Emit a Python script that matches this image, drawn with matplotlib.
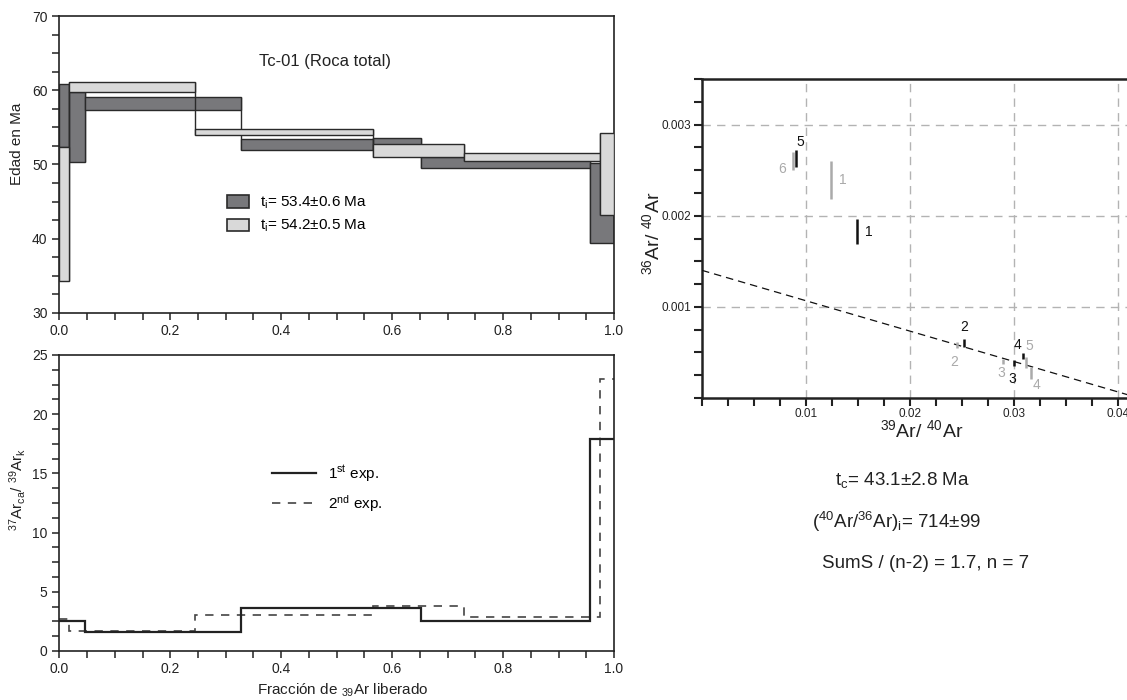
import matplotlib
matplotlib.use('Agg')
import matplotlib.pyplot as plt
import numpy as np
from matplotlib.patches import Patch
from matplotlib.lines import Line2D
from matplotlib.ticker import MultipleLocator

plt.rcParams['font.family'] = ['Liberation Sans', 'DejaVu Sans']
plt.rcParams['mathtext.fontset'] = 'custom'
plt.rcParams['mathtext.rm'] = 'Liberation Sans'
plt.rcParams['mathtext.it'] = 'Liberation Sans:italic'
plt.rcParams['mathtext.default'] = 'regular'

# ---------------- data ----------------
# Age spectrum (cumulative 39Ar fraction, age lower/upper bounds in Ma)
exp1_edges = [0.0, 0.018, 0.047, 0.328, 0.566, 0.652, 0.957, 1.0]
exp1_age_lo = [52.3, 50.3, 57.4, 52.0, 52.0, 49.5, 39.4]
exp1_age_hi = [60.8, 59.8, 59.1, 53.5, 53.6, 51.0, 50.2]
exp2_edges = [0.0, 0.018, 0.245, 0.566, 0.729, 0.975, 1.0]
exp2_age_lo = [34.3, 59.8, 54.0, 51.0, 50.5, 43.2]
exp2_age_hi = [52.3, 61.1, 54.8, 52.7, 51.6, 54.3]
legend_labels = ['t$_i$= 53.4\u00b10.6 Ma', 't$_i$= 54.2\u00b10.5 Ma']

# Ca/K spectrum
exp1_cak = [2.5, 2.5, 1.6, 3.65, 3.65, 2.55, 17.9]
exp2_cak = [2.7, 1.65, 3.0, 3.8, 2.9, 23.0]
cak_labels = ['1$^{st}$ exp.', '2$^{nd}$ exp.']

# Isochron (39Ar/40Ar, 36Ar/40Ar, 1-sigma on 36/40)
iso1_x = [0.01494, 0.02522, 0.02997, 0.03083, 0.00907]
iso1_y = [0.001825, 0.000603, 0.000386, 0.000456, 0.002629]
iso1_err = [0.00014, 0.00004, 0.00003, 0.000033, 0.00009]
iso1_lab = ['1', '2', '3', '4', '5']
iso2_x = [0.0124, 0.02452, 0.02894, 0.03167, 0.03119, 0.00872]
iso2_y = [0.00239, 0.000581, 0.0004, 0.000276, 0.00039, 0.0026]
iso2_err = [0.00021, 0.000033, 0.000031, 0.000066, 0.00006, 0.000094]
iso2_lab = ['1', '2', '3', '4', '5', '6']
fit_initial_ratio = 714.0      # (40Ar/36Ar)i
fit_x_intercept = 0.0420       # 39Ar/40Ar at 36Ar/40Ar = 0

age_xticks = [0.0, 0.2, 0.4, 0.6, 0.8, 1.0]
age_xticklabels = ['0.0', '0.2', '0.4', '0.6', '0.8', '1.0']
age_yticks = [30, 40, 50, 60, 70]
cak_yticks = [0, 5, 10, 15, 20, 25]
iso_xticks = [0.01, 0.02, 0.03, 0.04]
iso_xticklabels = ['0.01', '0.02', '0.03', '0.04']
iso_yticks = [0.001, 0.002, 0.003]
iso_yticklabels = ['0.001', '0.002', '0.003']

text_lines = ['t$_c$= 43.1\u00b12.8 Ma',
              '($^{40}$Ar/$^{36}$Ar)$_i$= 714\u00b199',
              'SumS / (n-2) = 1.7, n = 7']

# ---------------- figure ----------------
W, H = 1127, 700
fig = plt.figure(figsize=(W / 100, H / 100), dpi=100)

def px_axes(x0, y0, x1, y1):
    return fig.add_axes([x0 / W, 1 - y1 / H, (x1 - x0) / W, (y1 - y0) / H])

ax1 = px_axes(59.3, 16, 614, 313)
ax2 = px_axes(59.3, 355, 614, 651)
ax3 = px_axes(702, 79, 1170, 398)

DARK = '#78787b'
LIGHT = '#d9d9d9'
EDGE = '#2a2a2a'

def spectrum(ax, edges, lo, hi, fill, z):
    edges = np.array(edges); lo = np.array(lo); hi = np.array(hi)
    for i in range(1, len(lo)):
        ax.vlines(edges[i], min(lo[i - 1], lo[i]), max(hi[i - 1], hi[i]),
                  color=EDGE, lw=1.0, zorder=z)
    ax.bar(edges[:-1], hi - lo, width=np.diff(edges), bottom=lo, align='edge',
           color=fill, edgecolor=EDGE, linewidth=1.0, zorder=z + 0.5)

spectrum(ax1, exp1_edges, exp1_age_lo, exp1_age_hi, DARK, 2)
spectrum(ax1, exp2_edges, exp2_age_lo, exp2_age_hi, LIGHT, 3)

ax1.set_xlim(0, 1)
ax1.set_ylim(30, 70)
ax1.set_xticks(age_xticks)
ax1.set_xticklabels(age_xticklabels)
ax1.set_yticks(age_yticks)
ax1.xaxis.set_minor_locator(MultipleLocator(0.05))
ax1.yaxis.set_minor_locator(MultipleLocator(2.5))
ax1.set_ylabel('Edad en Ma', fontsize=11, color='#222', va='center', ha='center')
ax1.yaxis.set_label_coords(-0.076, 0.57)
ax1.text(0.479, 0.848, 'Tc-01 (Roca total)', transform=ax1.transAxes,
         ha='center', va='center', fontsize=12, color='#222')
handles = [Patch(facecolor=DARK, edgecolor=EDGE, linewidth=1.2),
           Patch(facecolor=LIGHT, edgecolor=EDGE, linewidth=1.2)]
ax1.legend(handles, legend_labels, loc='upper left', bbox_to_anchor=(0.302, 0.398),
           frameon=False, fontsize=11, handlelength=1.45, handleheight=0.85,
           handletextpad=0.7, labelspacing=0.45, borderpad=0, borderaxespad=0)

# Ca/K
ax2.stairs(exp1_cak, exp1_edges, baseline=None, color='#222', lw=1.6, zorder=3)
ax2.stairs(exp2_cak, exp2_edges, baseline=None, color='#444', lw=1.2,
           linestyle=(0, (5, 4.5)), zorder=2)
ax2.set_xlim(0, 1)
ax2.set_ylim(0, 25)
ax2.set_xticks(age_xticks)
ax2.set_xticklabels(age_xticklabels)
ax2.set_yticks(cak_yticks)
ax2.xaxis.set_minor_locator(MultipleLocator(0.05))
ax2.yaxis.set_minor_locator(MultipleLocator(1.25))
ax2.set_ylabel('$^{37}$Ar$_{ca}$/ $^{39}$Ar$_{k}$', fontsize=11, color='#222',
               va='center', ha='center')
ax2.yaxis.set_label_coords(-0.076, 0.545)
ax2.set_xlabel('Fracci\u00f3n de $_{39}$Ar liberado', fontsize=11, color='#222',
               va='center', ha='center')
ax2.xaxis.set_label_coords(0.51, -0.132)
lh = [Line2D([], [], color='#222', lw=1.6),
      Line2D([], [], color='#444', lw=1.2, linestyle=(0, (5, 4.5)))]
ax2.legend(lh, cak_labels, loc='upper left', bbox_to_anchor=(0.383, 0.635),
           frameon=False, fontsize=11, handlelength=2.9, handletextpad=0.75,
           labelspacing=0.6, borderpad=0, borderaxespad=0)

for ax in (ax1, ax2):
    for s in ax.spines.values():
        s.set_linewidth(1.2)
        s.set_color('#222')
    ax.tick_params(which='both', direction='out', length=5, width=1.1,
                   color='#222', labelsize=10, labelcolor='#222')
    ax.tick_params(axis='x', which='both', pad=3)

# Isochron
ax3.set_xlim(0, 0.045)
ax3.set_ylim(0, 0.0035)
ax3.set_xticks(iso_xticks)
ax3.set_xticklabels(iso_xticklabels)
ax3.set_yticks(iso_yticks)
ax3.set_yticklabels(iso_yticklabels)
ax3.xaxis.set_minor_locator(MultipleLocator(0.0025))
ax3.yaxis.set_minor_locator(MultipleLocator(0.00025))
ax3.grid(True, which='major', color='#b3b3b3', lw=1.0, linestyle=(0, (6, 4.5)))
ax3.set_axisbelow(True)
for s in ax3.spines.values():
    s.set_linewidth(1.8)
    s.set_color('#222')
ax3.tick_params(which='both', direction='out', length=5.5, width=1.5,
                color='#222', labelsize=8.5, labelcolor='#222', pad=2)

xx = np.array([0.0, 0.045])
yy = (1.0 / fit_initial_ratio) * (1 - xx / fit_x_intercept)
ax3.plot(xx, yy, color='#111', lw=0.9, linestyle=(0, (6, 4)), zorder=3)

ax3.errorbar(iso2_x, iso2_y, yerr=iso2_err, fmt='none', ecolor='#aaaaaa',
             elinewidth=1.8, capsize=0, zorder=4)
ax3.errorbar(iso1_x, iso1_y, yerr=iso1_err, fmt='none', ecolor='#111',
             elinewidth=1.8, capsize=0, zorder=5)

off1 = [(8, 0), (0, 11.5), (-1, -12), (-4, 8), (3, 12)]
off2 = [(8.6, 0), (-2, -12), (-1.5, -8), (4, -9), (2.4, 11.8), (-7.7, -6)]
for x, y, lab, o in zip(iso1_x, iso1_y, iso1_lab, off1):
    ax3.annotate(lab, (x, y), xytext=o, textcoords='offset points',
                 ha='center', va='center', fontsize=10, color='#111')
for x, y, lab, o in zip(iso2_x, iso2_y, iso2_lab, off2):
    ax3.annotate(lab, (x, y), xytext=o, textcoords='offset points',
                 ha='center', va='center', fontsize=10, color='#aaaaaa')

ax3.set_xlabel('$^{39}$Ar/ $^{40}$Ar', fontsize=14, color='#222',
               va='center', ha='center')
ax3.xaxis.set_label_coords(0.47, -0.1)
ax3.set_ylabel('$^{36}$Ar/ $^{40}$Ar', fontsize=14, color='#222',
               va='center', ha='center')
ax3.yaxis.set_label_coords(-0.106, 0.517)

ys = [480, 522, 564]
xs = [835, 812, 822]
for t, x, y in zip(text_lines, xs, ys):
    fig.text(x / W, 1 - y / H, t, fontsize=13.5, color='#222', ha='left', va='center')

fig.savefig('out.png', dpi=100)
